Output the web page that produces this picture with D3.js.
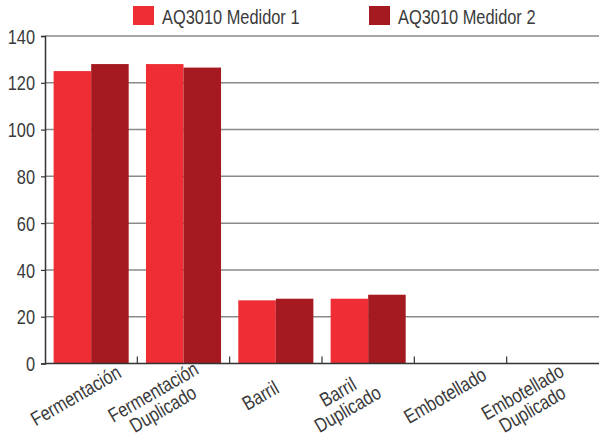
<!doctype html>
<html lang="es">
<head>
<meta charset="utf-8">
<title>AQ3010</title>
<script src="https://cdn.jsdelivr.net/npm/d3@7"></script>
<style>
  body { margin: 0; background: #fff; }
  svg text { font-family: "Liberation Sans", Arial, sans-serif; fill: #3a3a3a; }
</style>
</head>
<body>
<script>
  const width = 599, height = 448;
  const margin = { top: 36, right: 0, bottom: 85, left: 45 };
  const squeeze = 0.82; // the original font is a condensed grotesk

  // data
  const categories = ["Fermentación", "Fermentación\nDuplicado", "Barril", "Barril\nDuplicado", "Embotellado", "Embotellado\nDuplicado"];
  const series = ["AQ3010 Medidor 1", "AQ3010 Medidor 2"];
  const medidor1 = [125, 128, 27, 27.7, 0, 0];
  const medidor2 = [128, 126.5, 27.7, 29.4, 0, 0];
  const yTicks = [0, 20, 40, 60, 80, 100, 120, 140];
  const colors = ["#ee2d35", "#a51a20"];

  const rows = categories.map((c, i) => ({ cat: c, vals: [medidor1[i], medidor2[i]] }));

  const svg = d3.select("body").append("svg")
      .attr("width", width).attr("height", height);

  const x = d3.scaleBand().domain(categories)
      .range([margin.left, width - margin.right]).padding(0);
  const xs = d3.scaleBand().domain(series)
      .range([0, x.bandwidth()]).paddingInner(0).paddingOuter(0.23);
  const y = d3.scaleLinear().domain([0, 140])
      .range([height - margin.bottom + 0.5, margin.top]);

  // gridlines
  svg.append("g")
    .selectAll("line").data(yTicks.filter(d => d > 0)).join("line")
      .attr("x1", margin.left).attr("x2", width - margin.right)
      .attr("y1", d => y(d)).attr("y2", d => y(d))
      .attr("stroke", "#8a8a8a").attr("stroke-width", 1.5);

  // bars
  const grp = svg.append("g").selectAll("g").data(rows).join("g")
      .attr("transform", d => `translate(${x(d.cat)},0)`);
  grp.selectAll("rect").data(d => d.vals.map((v, k) => ({ s: series[k], v, k }))).join("rect")
      .attr("x", d => xs(d.s))
      .attr("width", xs.bandwidth())
      .attr("y", d => y(d.v))
      .attr("height", d => y(0) - y(d.v))
      .attr("fill", d => colors[d.k]);

  // y axis
  const yAxis = svg.append("g")
      .attr("transform", `translate(${margin.left},0)`)
      .call(d3.axisLeft(y).tickValues(yTicks).tickSize(4).tickPadding(6));
  yAxis.select(".domain").attr("stroke", "#333").attr("stroke-width", 1.5);
  yAxis.selectAll(".tick line").attr("stroke", "#333").attr("stroke-width", 1.2);
  yAxis.selectAll(".tick text")
      .style("font-size", "20px").attr("fill", "#3a3a3a").attr("dy", "0.36em")
      .attr("x", -10 / squeeze)
      .attr("transform", `scale(${squeeze},1)`);

  // x axis line with inner ticks at band boundaries
  const xAxis = svg.append("g");
  xAxis.append("line")
      .attr("x1", margin.left).attr("x2", width - margin.right)
      .attr("y1", y(0)).attr("y2", y(0))
      .attr("stroke", "#333").attr("stroke-width", 1.5);
  xAxis.selectAll("line.tk").data(categories.slice(1)).join("line")
      .attr("class", "tk")
      .attr("x1", d => x(d)).attr("x2", d => x(d))
      .attr("y1", y(0)).attr("y2", y(0) - 7)
      .attr("stroke", "#333").attr("stroke-width", 1.2);

  // rotated category labels, lines centred on each other
  const lineH = 19.5;
  const nLines = d => d.split("\n").length;
  const lab = xAxis.selectAll("g.lab").data(categories).join("g")
      .attr("class", "lab")
      .attr("transform", d => {
        const n = nLines(d) - 1;
        const cx = x(d) + x.bandwidth() / 2 - 12 - 10 * n;
        const cy = y(0) + 38 + 5 * n;
        return `translate(${cx},${cy}) rotate(-30) scale(${squeeze},1)`;
      });
  lab.append("text").style("font-size", "20px").attr("text-anchor", "middle")
    .each(function(d) {
      const lines = d.split("\n");
      lines.forEach((l, i) => d3.select(this).append("tspan")
          .attr("x", 0).attr("y", (i - (lines.length - 1) / 2) * lineH).text(l));
    });

  // legend
  const leg = svg.append("g").selectAll("g").data(series).join("g")
      .attr("transform", (d, i) => `translate(${133 + i * 236},6)`);
  leg.append("rect").attr("width", 21).attr("height", 19)
      .attr("fill", (d, i) => colors[i]);
  leg.append("text")
      .attr("transform", `translate(29,18) scale(${squeeze},1)`)
      .style("font-size", "20px").text(d => d);
</script>
</body>
</html>
